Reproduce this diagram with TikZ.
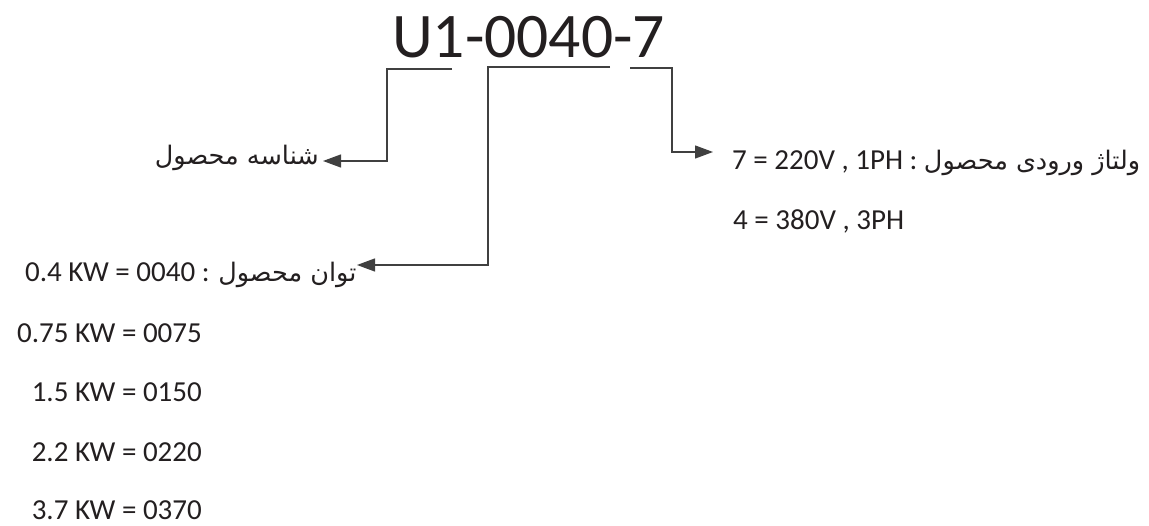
\documentclass[tikz,border=0pt]{standalone}
\usepackage{fontspec}
\setmainfont{Carlito}
\newfontfamily\arabicfont[Script=Arabic]{DejaVu Sans}
\usetikzlibrary{arrows.meta}
\TeXXeTstate=1
\definecolor{ink}{HTML}{231F20}
\definecolor{wire}{HTML}{404040}
\tikzset{
  wirestyle/.style={draw=wire, line width=1.3pt},
  arrowline/.style={wirestyle, -{Triangle[length=18pt,width=13pt]}},
  txt/.style={inner sep=0pt, text=ink, font=\fontsize{29}{34}\selectfont},
  ar/.style={inner sep=0pt, text=ink, font=\fontsize{25.5}{30}\selectfont\arabicfont},
}
\begin{document}
\begin{tikzpicture}[x=1pt,y=-1pt]
\useasboundingbox (0,0) rectangle (1149,526);
% title
\node[txt, anchor=base west, font=\fontsize{63.5}{70}\selectfont] (title) at (392,58) {U1-0040-7};
% labels
\node[ar, anchor=base east] (lbl1) at (319,165) {\beginR شناسه محصول\endR};
\node[txt, anchor=base west] (lbl2) at (25,282) {0.4 KW = 0040 : {\arabicfont\fontsize{25.5}{30}\selectfont\beginR توان محصول\endR}};
\node[txt, anchor=base west] (lbl3) at (732,170) {7 = 220V , 1PH : {\arabicfont\fontsize{25.5}{30}\selectfont\beginR ولتاژ ورودی محصول\endR}};
\node[txt, anchor=base west] (v4) at (733,230) {4 = 380V , 3PH};
\node[txt, anchor=base east] (p2) at (202,343) {0.75 KW = 0075};
\node[txt, anchor=base east] (p3) at (202,402) {1.5 KW = 0150};
\node[txt, anchor=base east] (p4) at (202,461) {2.2 KW = 0220};
\node[txt, anchor=base east] (p5) at (202,519) {3.7 KW = 0370};
% bracket coordinates
\coordinate (b1s) at (452,69);
\coordinate (b1c) at (387,69);
\coordinate (a1) at (323,161);
\coordinate (b2s) at (610,67);
\coordinate (b2c) at (488,67);
\coordinate (a2) at (357,265);
\coordinate (b3s) at (630,68);
\coordinate (b3c) at (672,68);
\coordinate (a3) at (713,152);
% connectors
\draw[arrowline] (b1s) -- (b1c) |- (a1);
\draw[arrowline] (b2s) -- (b2c) |- (a2);
\draw[arrowline] (b3s) -- (b3c) |- (a3);
\end{tikzpicture}
\end{document}
